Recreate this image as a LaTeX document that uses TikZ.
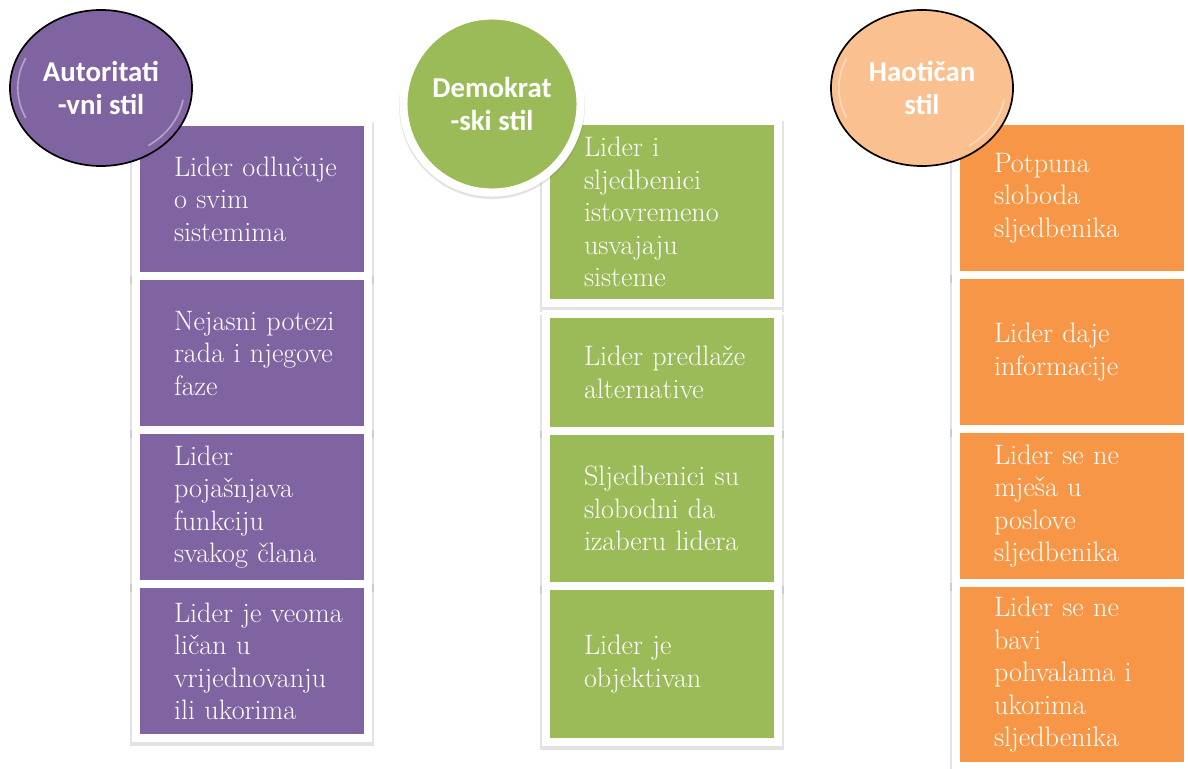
\documentclass[tikz,border=0pt]{standalone}
\usepackage{fontspec}
\newfontfamily\headfont{Carlito}
\usepackage{tikz}
\usetikzlibrary{positioning,shapes.geometric,shadows}
\definecolor{autpurple}{HTML}{8064A2}
\definecolor{demgreen}{HTML}{9BBB59}
\definecolor{haoorange}{HTML}{F79646}
\definecolor{haolight}{HTML}{FAC090}

\begin{document}
\begin{tikzpicture}[
      x=0.025cm,y=-0.025cm,
      node distance=-0.2cm,
      tile/.style={draw=white,line width=0.2cm,outer sep=0.1cm,text=white,inner xsep=0.1cm,inner ysep=0pt,text width=5.6cm,align=left,font=\fontsize{20}{23.1}\selectfont,execute at begin node={\leftskip=0.85cm},drop shadow={shadow xshift=0pt,shadow yshift=-0.1cm,shadow scale=1.05,opacity=.18,fill=black!60}},
      aut/.style={tile,fill=autpurple,minimum height=3.85cm},
      dem/.style={tile,fill=demgreen},
      hao/.style={tile,fill=haoorange,minimum height=3.85cm},
      headtext/.style={text=white,align=center,font=\headfont\bfseries\fontsize{20.5}{24}\selectfont},
      glossy/.style={path picture={
        \draw[white,opacity=.4,line width=1.2pt,line cap=round]
          ([shift={(155:2.08cm and 1.75cm)}]path picture bounding box.center) arc[start angle=155,end angle=205,x radius=2.08cm,y radius=1.75cm];
        \draw[white,opacity=.4,line width=1.2pt,line cap=round]
          ([shift={(-10:2.08cm and 1.75cm)}]path picture bounding box.center) arc[start angle=-10,end angle=-55,x radius=2.08cm,y radius=1.75cm];
      }},
      ovalhead/.style={ellipse,draw=black,line width=1.2pt,minimum width=4.55cm,minimum height=3.9cm,headtext,glossy},
      roundhead/.style={circle,draw=white,line width=0.2cm,minimum size=4.425cm,headtext,drop shadow={shadow xshift=0pt,shadow yshift=-0.05cm,shadow scale=1.05,opacity=.18,fill=black!60}}
    ]
    \useasboundingbox (0,0) rectangle (1188,768);

    \node[aut,anchor=north west] (aut1) at (132,118) {Lider odlučuje\\o svim\\sistemima};
    \node[aut,below=of aut1] (aut2) {Nejasni potezi\\rada i njegove\\faze};
    \node[aut,below=of aut2] (aut3) {Lider\\pojašnjava\\funkciju\\svakog člana};
    \node[aut,below=of aut3] (aut4) {Lider je veoma\\ličan u\\vrijednovanju\\ili ukorima};

    \node[dem,minimum height=4.55cm,anchor=north west] (dem1) at (542,117) {Lider i\\sljedbenici\\istovremeno\\usvajaju\\sisteme};
    \node[dem,minimum height=2.925cm,below=0.075cm of dem1] (dem2) {Lider predlaže\\alternative};
    \node[dem,minimum height=3.875cm,below=of dem2] (dem3) {Sljedbenici su\\slobodni da\\izaberu lidera};
    \node[dem,minimum height=3.9cm,below=of dem3] (dem4) {Lider je\\objektivan};

    \node[hao,anchor=north west] (hao1) at (952,117) {Potpuna\\sloboda\\sljedbenika};
    \node[hao,below=of hao1] (hao2) {Lider daje\\informacije};
    \node[hao,below=of hao2] (hao3) {Lider se ne\\mješa u\\poslove\\sljedbenika};
    \node[hao,minimum height=4.575cm,below=of hao3] (hao4) {Lider se ne\\bavi\\pohvalama i\\ukorima\\sljedbenika};

    \node[ovalhead,fill=autpurple] (aut) at (101,88) {Autoritati\\-vni stil};
    \node[roundhead,fill=demgreen] (dem) at (492,104) {Demokrat\\-ski stil};
    \node[ovalhead,fill=haolight] (hao) at (922,88) {Haotičan\\stil};
  \end{tikzpicture}
\end{document}
